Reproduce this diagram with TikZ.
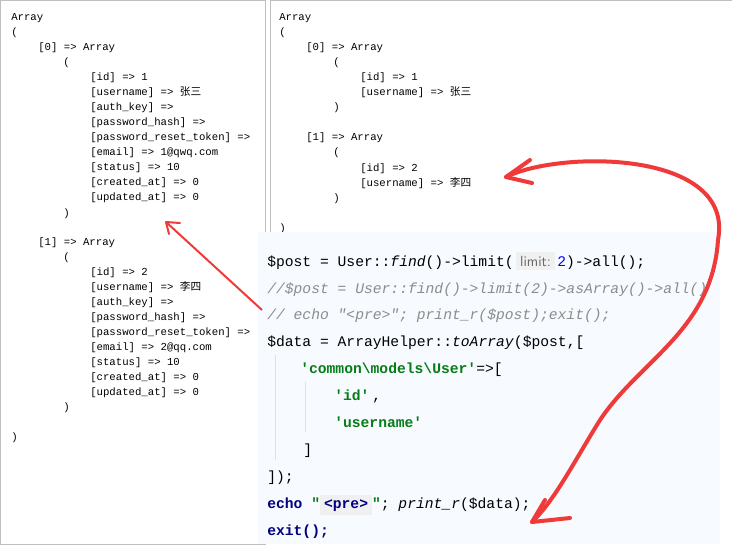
\documentclass[tikz,border=0pt]{standalone}
\usepackage{fontspec}
\setmonofont{Liberation Mono}
\newfontfamily\cjk{Noto Sans CJK SC}
\definecolor{codebg}{HTML}{F7FAFF}
\definecolor{codegreen}{HTML}{067D17}
\definecolor{codenavy}{HTML}{000080}
\definecolor{inkred}{HTML}{F03A3A}
\begin{document}
\begin{tikzpicture}[x=0.75pt,y=-0.75pt]
  \tikzstyle{dump}=[anchor=base west,inner sep=0pt,font=\ttfamily\fontsize{8}{9}\selectfont]
  \tikzstyle{code}=[anchor=base west,inner sep=0pt,font=\ttfamily\fontsize{11}{13}\selectfont]
  \tikzstyle{ink}=[draw=inkred,line width=3pt,line cap=round,line join=round]
  \useasboundingbox (0,0) rectangle (732,544);
  \fill[white] (0,0) rectangle (732,544);
  \draw[black!25] (0.5,0.5) rectangle (265,544);
  \draw[black!25] (270,0.5) -- (270,232) (270,0.5) -- (731.5,0.5);
  % left dump
  \node[dump] (a0) at (11,20) {Array};
  \node[dump] at (11,35) {(};
  \node[dump] at (38,50) {[0] => Array};
  \node[dump] at (63,65) {(};
  \foreach \t [count=\i] in {[id] => 1,[username] => {\cjk 张三},[auth\_key] =>,[password\_hash] =>,[password\_reset\_token] =>,[email] => 1@qwq.com,[status] => 10,[created\_at] => 0,[updated\_at] => 0}
    \node[dump] at (90,65+15.1*\i) {\t};
  \node[dump] (a0end) at (63,216) {)};
  \node[dump] at (38,245) {[1] => Array};
  \node[dump] at (63,260) {(};
  \foreach \t [count=\i] in {[id] => 2,[username] => {\cjk 李四},[auth\_key] =>,[password\_hash] =>,[password\_reset\_token] =>,[email] => 2@qq.com,[status] => 10,[created\_at] => 0,[updated\_at] => 0}
    \node[dump] at (90,260+15.1*\i) {\t};
  \node[dump] at (63,410) {)};
  \node[dump] at (11,440) {)};
  % right dump
  \node[dump] at (279,20) {Array};
  \node[dump] at (279,35) {(};
  \node[dump] at (306,50) {[0] => Array};
  \node[dump] at (333,65) {(};
  \node[dump] at (360,80) {[id] => 1};
  \node[dump] at (360,95) {[username] => {\cjk 张三}};
  \node[dump] at (333,110) {)};
  \node[dump] at (306,140) {[1] => Array};
  \node[dump] at (333,155) {(};
  \node[dump] at (360,171) {[id] => 2};
  \node[dump] (lisi) at (360,186) {[username] => {\cjk 李四}};
  \node[dump] at (333,201) {)};
  \node[dump] at (279,231) {)};
  % code panel
  \fill[codebg] (258,232) rectangle (720,544);
  \draw[black!12] (275,355) -- (275,460) (305,382) -- (305,432);
  \node[code] at (267,266) {\$post = User::\textit{find}()->limit(\,{\sffamily\color{black!60}\colorbox{black!6}{limit:}}\,{\color{blue}2})->all();};
  \node[code,color=black!45,font=\ttfamily\itshape\fontsize{11}{13}\selectfont] at (267,293) {//\$post = User::find()->limit(2)->asArray()->all()};
  \node[code,color=black!45,font=\ttfamily\itshape\fontsize{11}{13}\selectfont] at (267,319) {// echo "<pre>"; print\_r(\$post);exit();};
  \node[code] at (267,346) {\$data = ArrayHelper::\textit{toArray}(\$post,[};
  \node[code] at (300,373) {{\color{codegreen}\bfseries'common\textbackslash models\textbackslash User'}=>[};
  \node[code,color=codegreen,font=\ttfamily\bfseries\fontsize{11}{13}\selectfont] at (334,400) {'id'};
  \node[code] at (372,400) {,};
  \node[code,color=codegreen,font=\ttfamily\bfseries\fontsize{11}{13}\selectfont] at (334,427) {'username'};
  \node[code] at (303,454) {]};
  \node[code] at (267,481) {]);};
  \node[code] (echo) at (267,508) {{\color{codenavy}\bfseries echo} {\color{codegreen}\bfseries"}{\color{codenavy}\bfseries\colorbox{black!6}{<pre>}}{\color{codegreen}\bfseries"}; \textit{print\_r}(\$data);};
  \node[code,color=codenavy,font=\ttfamily\bfseries\fontsize{11}{13}\selectfont] at (267,535) {exit();};
  % red marks
  \coordinate (from1) at (262,310);
  \coordinate (tip1) at (166,222);
  \draw[inkred,line width=1.5pt] (from1) -- (tip1);
  \draw[inkred,line width=1.5pt,line cap=round] (tip1) -- +(14,1) (tip1) -- +(3,12);
  \coordinate (tip2) at (506,177);
  \coordinate (tip3) at (532,522);
  \draw[ink] (tip2) .. controls (560,150) and (735,150) .. (718,240)
    .. controls (712,330) and (640,360) .. (600,420)
    .. controls (575,460) and (555,500) .. (tip3);
  \draw[ink] (tip2) -- (530,160) (tip2) -- (532,183);
  \draw[ink] (tip3) -- (545,500) (tip3) -- (570,518);
\end{tikzpicture}
\end{document}
